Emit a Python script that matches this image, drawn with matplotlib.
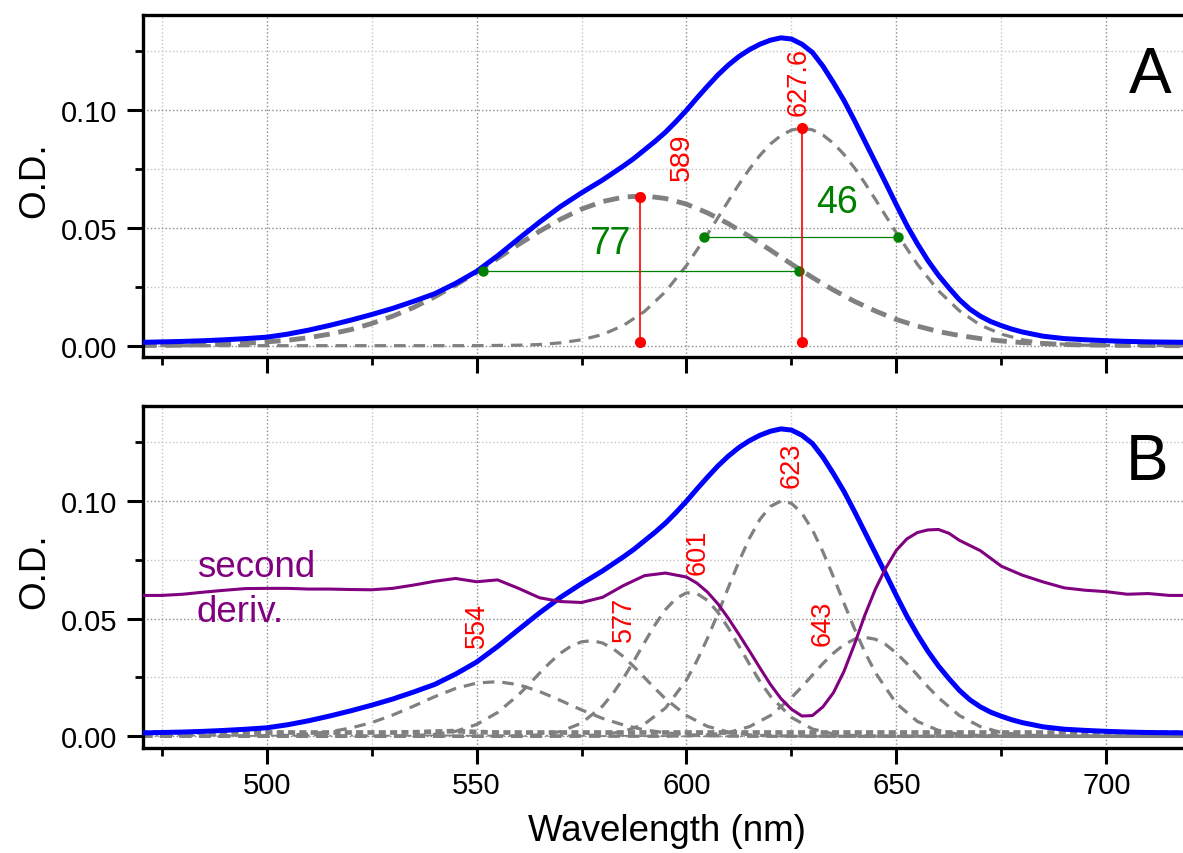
import numpy as np
import matplotlib
matplotlib.use("Agg")
import matplotlib.pyplot as plt
from matplotlib.ticker import MultipleLocator, AutoMinorLocator, FormatStrFormatter

plt.rcParams['font.family'] = ['Liberation Sans', 'DejaVu Sans']

# wavelength grid (nm), 5 nm steps
wl = np.arange(470, 721, 5)

# measured absorbance (same spectrum in both panels), finer steps around the band
abs_wl = [470, 475, 480, 485, 490, 495, 500, 505, 510, 515, 520, 525, 530, 535, 540, 545,
          550, 555, 560, 565, 570, 575, 580,
          585, 587.5, 590, 592.5, 595, 597.5, 600, 602.5, 605, 607.5, 610, 612.5, 615,
          617.5, 620, 622.5, 625, 627.5, 630, 632.5, 635, 637.5, 640, 642.5, 645, 647.5,
          650, 652.5, 655, 657.5, 660, 662.5, 665, 667.5, 670, 672.5, 675, 677.5, 680,
          685, 690, 695, 700, 705, 710, 715, 720]
absorb = [0.0014, 0.0016, 0.0018, 0.0021, 0.0025, 0.0030, 0.0036, 0.0049, 0.0066, 0.0086,
          0.0108, 0.0132, 0.0158, 0.0188, 0.0220, 0.0264, 0.0315, 0.0381, 0.0453, 0.0524,
          0.0590, 0.0648, 0.0702,
          0.0762, 0.0794, 0.0830, 0.0866, 0.0905, 0.0950, 0.0998, 0.1050, 0.1100, 0.1148,
          0.1190, 0.1226, 0.1255, 0.1278, 0.1295, 0.1305, 0.1300, 0.1278, 0.1243, 0.1185,
          0.1115, 0.1040, 0.0955, 0.0866, 0.0777, 0.0688, 0.0597, 0.0510, 0.0432, 0.0361,
          0.0299, 0.0245, 0.0195, 0.0155, 0.0125, 0.0102, 0.0085, 0.0070, 0.0058,
          0.0040, 0.0030, 0.0025, 0.0021, 0.0018, 0.0016, 0.0015, 0.0014]

# panel A: two-band decomposition
band_589 = [0.0001, 0.0001, 0.0002, 0.0004, 0.0006, 0.0010, 0.0016, 0.0023, 0.0034, 0.0049,
            0.0068, 0.0094, 0.0125, 0.0162, 0.0207, 0.0257, 0.0312, 0.0370, 0.0429, 0.0485,
            0.0536, 0.0579, 0.0611, 0.0630, 0.0635, 0.0624, 0.0600, 0.0563, 0.0517, 0.0463,
            0.0405, 0.0346, 0.0289, 0.0236, 0.0188, 0.0147, 0.0111, 0.0083, 0.0060, 0.0043,
            0.0030, 0.0020, 0.0013, 0.0009, 0.0005, 0.0003, 0.0002, 0.0001, 0.0001, 0.0000,
            0.0000]
band_628_wl = [470, 550, 555, 560, 565, 570, 575, 580, 585, 590, 595, 600, 605, 610,
               612.5, 615, 617.5, 620, 622.5, 625, 627.5, 630, 632.5, 635, 637.5, 640, 642.5,
               645, 650, 655, 660, 665, 670, 675, 680, 685, 690, 695, 700, 720]
band_628 = [0.0, 0.0, 0.0001, 0.0002, 0.0005, 0.0012, 0.0025, 0.0047, 0.0086, 0.0145,
            0.0229, 0.0340, 0.0472, 0.0614,
            0.0684, 0.0749, 0.0807, 0.0855, 0.0891, 0.0914, 0.0922, 0.0915, 0.0893, 0.0858,
            0.0811, 0.0754, 0.0689,
            0.0620, 0.0478, 0.0345, 0.0233, 0.0148, 0.0087, 0.0049, 0.0025, 0.0012, 0.0006,
            0.0002, 0.0001, 0.0]

peak_pos_A = [589, 627.6]
peak_top_A = [0.0631, 0.0922]
peak_base = 0.0017
peak_labels_A = ["589", "627.6"]
fwhm_left = [551.5, 604.1]
fwhm_right = [626.9, 650.3]
fwhm_level = [0.0317, 0.0459]
fwhm_labels = ["77", "46"]

# panel B: five-band decomposition
band_554 = [0.0, 0.0, 0.0, 0.0, 0.0, 0.0001, 0.0002, 0.0004, 0.0010, 0.0019,
            0.0035, 0.0058, 0.0090, 0.0128, 0.0168, 0.0203, 0.0226, 0.0232, 0.0219, 0.0190,
            0.0152, 0.0112, 0.0076, 0.0048, 0.0027, 0.0015, 0.0007, 0.0003, 0.0001, 0.0,
            0.0, 0.0, 0.0, 0.0, 0.0, 0.0, 0.0, 0.0, 0.0, 0.0,
            0.0, 0.0, 0.0, 0.0, 0.0, 0.0, 0.0, 0.0, 0.0, 0.0,
            0.0]
band_577_wl = [470, 520, 525, 530, 535, 540, 545, 550, 555, 560,
               562.5, 565, 567.5, 570, 572.5, 575, 577.5, 580, 582.5, 585, 587.5, 590, 592.5,
               595, 600, 605, 610, 615, 620, 625, 630, 720]
band_577 = [0.0, 0.0, 0.0, 0.0001, 0.0003, 0.0008, 0.0021, 0.0050, 0.0101, 0.0176,
            0.0221, 0.0268, 0.0313, 0.0353, 0.0383, 0.0401, 0.0406, 0.0396, 0.0372, 0.0338,
            0.0295, 0.0249, 0.0203,
            0.0159, 0.0088, 0.0042, 0.0018, 0.0006, 0.0002, 0.0001, 0.0, 0.0]
band_601_wl = [470, 550, 555, 560, 565, 570, 575, 580,
               582.5, 585, 587.5, 590, 592.5, 595, 597.5, 600, 602.5, 605, 607.5, 610, 612.5,
               615, 617.5,
               620, 625, 630, 635, 640, 645, 650, 720]
band_601 = [0.0, 0.0, 0.0, 0.0002, 0.0006, 0.0020, 0.0056, 0.0128,
            0.0182, 0.0247, 0.0321, 0.0398, 0.0473, 0.0538, 0.0585, 0.0609, 0.0606, 0.0577,
            0.0526, 0.0459, 0.0383, 0.0306, 0.0233,
            0.0170, 0.0080, 0.0031, 0.0010, 0.0003, 0.0001, 0.0, 0.0]
band_623_wl = [470, 565, 570, 575, 580, 585, 590, 595, 600,
               602.5, 605, 607.5, 610, 612.5, 615, 617.5, 620, 622.5, 625, 627.5, 630, 632.5,
               635, 637.5, 640, 642.5, 645,
               650, 655, 660, 665, 670, 675, 680, 720]
band_623 = [0.0, 0.0, 0.0001, 0.0002, 0.0007, 0.0020, 0.0052, 0.0120, 0.0239,
            0.0321, 0.0416, 0.0522, 0.0633, 0.0742, 0.0841, 0.0921, 0.0976, 0.0999, 0.0989,
            0.0947, 0.0876, 0.0783, 0.0677, 0.0566, 0.0457, 0.0357, 0.0270,
            0.0139, 0.0063, 0.0025, 0.0008, 0.0003, 0.0001, 0.0, 0.0]
band_643_wl = [470, 590, 595, 600, 605, 610, 615, 620, 625,
               627.5, 630, 632.5, 635, 637.5, 640, 642.5, 645, 647.5, 650, 652.5, 655, 657.5,
               660, 665, 670, 675, 680, 685, 690, 720]
band_643 = [0.0, 0.0, 0.0, 0.0002, 0.0006, 0.0016, 0.0041, 0.0088, 0.0164,
            0.0210, 0.0260, 0.0309, 0.0353, 0.0389, 0.0412, 0.0420, 0.0412, 0.0389, 0.0353,
            0.0309, 0.0260, 0.0210,
            0.0164, 0.0088, 0.0041, 0.0016, 0.0006, 0.0002, 0.0, 0.0]
background = [0.0017, 0.0016, 0.0016, 0.0016, 0.0016, 0.0016, 0.0016, 0.0016, 0.0016, 0.0016,
              0.0016, 0.0016, 0.0016, 0.0017, 0.0020, 0.0022, 0.0018, 0.0016, 0.0016, 0.0016,
              0.0016, 0.0016, 0.0016, 0.0016, 0.0016, 0.0016, 0.0016, 0.0016, 0.0016, 0.0016,
              0.0016, 0.0016, 0.0016, 0.0016, 0.0016, 0.0016, 0.0016, 0.0016, 0.0016, 0.0016,
              0.0016, 0.0016, 0.0016, 0.0016, 0.0016, 0.0016, 0.0016, 0.0016, 0.0016, 0.0016,
              0.0016]
residual = [0.0003, 0.0002, 0.0004, 0.0002, 0.0003, 0.0001, 0.0003, 0.0002, 0.0004, 0.0002,
            0.0003, 0.0001, 0.0003, 0.0002, 0.0004, 0.0003, 0.0002, 0.0003, 0.0001, 0.0002,
            0.0003, 0.0002, 0.0001, 0.0002, 0.0001, 0.0001, 0.0, 0.0, 0.0, 0.0,
            0.0, 0.0, 0.0, 0.0, 0.0, 0.0, 0.0, 0.0, 0.0, 0.0,
            0.0, 0.0, 0.0, 0.0, 0.0, 0.0, 0.0, 0.0, 0.0, 0.0,
            0.0]
deriv_wl = [470, 475, 480, 485, 490, 495, 500, 505, 510, 515, 520, 525, 530, 535, 540, 545,
            550, 555, 560, 565, 570, 575, 580, 585, 590, 595, 600,
            602.5, 605, 607.5, 610, 612.5, 615, 617.5, 620, 622.5, 625, 627.5, 630, 632.5,
            635, 637.5, 640, 642.5, 645, 647.5, 650, 652.5, 655, 657.5, 660, 662.5, 665,
            670, 675, 680, 685, 690, 695, 700, 705, 710, 715, 720]
second_deriv = [0.0598, 0.0598, 0.0603, 0.0612, 0.0620, 0.0627, 0.0628, 0.0628, 0.0625,
                0.0625, 0.0623, 0.0622, 0.0628, 0.0642, 0.0658, 0.0670, 0.0656, 0.0664,
                0.0628, 0.0588, 0.0572, 0.0568, 0.0590, 0.0640, 0.0682, 0.0693, 0.0676,
                0.0650, 0.0612, 0.0562, 0.0500, 0.0432, 0.0362, 0.0290, 0.0220, 0.0160,
                0.0115, 0.0086, 0.0088, 0.0125, 0.0185, 0.0275, 0.0390, 0.0515, 0.0625,
                0.0715, 0.0790, 0.0838, 0.0865, 0.0876, 0.0878, 0.0862, 0.0832,
                0.0788, 0.0722, 0.0684, 0.0655, 0.0630, 0.0620, 0.0614, 0.0603, 0.0606,
                0.0598, 0.0598]
peak_labels_B = ["554", "577", "601", "623", "643"]

GREY = '#808080'
THIN_DASH = (0, (3.6, 2.5))

fig = plt.figure(figsize=(11.83, 8.54), dpi=100)
ax1 = fig.add_axes([0.1206, 0.5808, 0.8794, 0.4008])
ax2 = fig.add_axes([0.1206, 0.1226, 0.8794, 0.4005])

for ax in (ax1, ax2):
    ax.set_xlim(470.46, 718.27)
    ax.xaxis.set_major_locator(MultipleLocator(50))
    ax.xaxis.set_minor_locator(AutoMinorLocator(2))
    ax.yaxis.set_major_locator(MultipleLocator(0.05))
    ax.yaxis.set_minor_locator(AutoMinorLocator(2))
    ax.yaxis.set_major_formatter(FormatStrFormatter('%.2f'))
    ax.grid(which='major', color='#8a8a8a', linestyle=':', linewidth=1.0)
    ax.grid(which='minor', color='#c4c4c4', linestyle=':', linewidth=1.0)
    ax.tick_params(which='major', direction='out', length=11.5, width=2.2, labelsize=21)
    ax.tick_params(which='minor', direction='out', length=5.5, width=2.0)
    ax.tick_params(axis='y', which='major', pad=7)
    ax.tick_params(axis='x', which='major', pad=4.5)
    ax.spines['right'].set_visible(False)
    for s in ('left', 'bottom', 'top'):
        ax.spines[s].set_linewidth(2.4)
    ax.set_ylabel("O.D.", fontsize=26.5)

ax1.set_ylim(-0.0048, 0.1403)
ax2.set_ylim(-0.0051, 0.1401)
ax1.tick_params(axis='x', labelbottom=False)
ax1.yaxis.set_label_coords(-0.087, 0.52)
ax2.yaxis.set_label_coords(-0.087, 0.52)

# ---- panel A ----
ax1.plot(band_628_wl, band_628, color=GREY, lw=2.3, ls=THIN_DASH)
ax1.plot(wl, band_589, color=GREY, lw=3.5, ls=(0, (3.3, 1.8)))
ax1.plot(abs_wl, absorb, color='#0000ff', lw=3.6, zorder=4)

for x0, x1, lev in zip(fwhm_left, fwhm_right, fwhm_level):
    ax1.plot([x0, x1], [lev, lev], color='#008000', lw=0.9, marker='o', ms=6.5, zorder=5)
for p, top in zip(peak_pos_A, peak_top_A):
    ax1.plot([p, p], [peak_base, top], color='#ff0000', lw=1.2, marker='o', ms=7, zorder=6)

ax1.text(581.8, 0.0437, fwhm_labels[0], color='#008000', fontsize=27, ha='center', va='center')
ax1.text(635.8, 0.0611, fwhm_labels[1], color='#008000', fontsize=27, ha='center', va='center')
ax1.text(598.9, 0.0802, peak_labels_A[0], color='#ff0000', fontsize=20.5, rotation=90,
         ha='center', va='center')
ax1.text(626.6, 0.1123, peak_labels_A[1], color='#ff0000', fontsize=19.5, rotation=90,
         ha='center', va='center')
ax1.text(710.4, 0.1075, "A", fontsize=46, ha='center', va='baseline')

# ---- panel B ----
ax2.plot(wl, band_554, color=GREY, lw=2.3, ls=THIN_DASH)
ax2.plot(band_577_wl, band_577, color=GREY, lw=2.3, ls=THIN_DASH)
ax2.plot(band_601_wl, band_601, color=GREY, lw=2.3, ls=THIN_DASH)
ax2.plot(band_623_wl, band_623, color=GREY, lw=2.3, ls=THIN_DASH)
ax2.plot(band_643_wl, band_643, color=GREY, lw=2.3, ls=THIN_DASH)
ax2.plot(wl, residual, color=GREY, lw=1.3, ls=(0, (6, 2.5, 1, 2.5)))
ax2.plot(wl, background, color=GREY, lw=3.4, ls=(0, (1.5, 0.9)))
ax2.plot(abs_wl, absorb, color='#0000ff', lw=3.6, zorder=4)
ax2.plot(deriv_wl, second_deriv, color='#800080', lw=2.2, zorder=5)

label_pos_B = [(550.1, 0.0473), (585.1, 0.0502), (602.6, 0.0784), (625.1, 0.1156), (632.4, 0.0484)]
for lab, (x, y) in zip(peak_labels_B, label_pos_B):
    ax2.text(x, y, lab, color='#ff0000', fontsize=19.5, rotation=90, ha='center', va='center')

ax2.text(483.3, 0.0682, "second", color='#800080', fontsize=26.5, ha='left', va='baseline')
ax2.text(483.3, 0.0491, "deriv.", color='#800080', fontsize=26.5, ha='left', va='baseline')
ax2.text(709.8, 0.1092, "B", fontsize=46, ha='center', va='baseline')

ax2.set_xlabel("Wavelength (nm)", fontsize=26.5)
ax2.xaxis.set_label_coords(0.5035, -0.188)

fig.savefig('out.png', dpi=100)
